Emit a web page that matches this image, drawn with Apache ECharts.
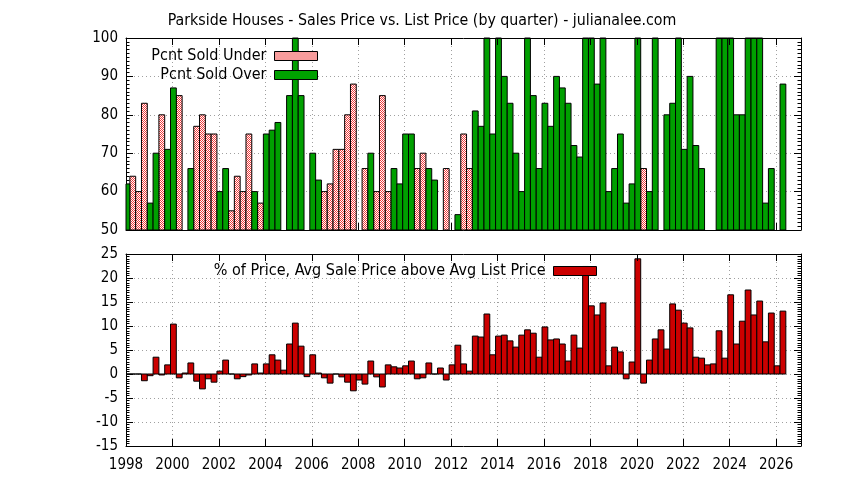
<!DOCTYPE html>
<html>
<head>
<meta charset="utf-8">
<script src="https://cdn.jsdelivr.net/npm/echarts@6/dist/echarts.min.js"></script>
<style>
html,body{margin:0;padding:0;background:#fff;}
#chart{width:844px;height:480px;}
</style>
</head>
<body>
<div id="chart"></div>
<script>
// ---- data (quarterly, index 0 = 1998 Q1) ----
const startYear = 1998;
const titleText = 'Parkside Houses - Sales Price vs. List Price (by quarter) - julianalee.com';
const underName = 'Pcnt Sold Under';
const overName = 'Pcnt Sold Over';
const diffName = '% of Price, Avg Sale Price above Avg List Price';

const underPct = [
  null, 64, 60, 83, null, null, 80, null, null, 85,
  null, null, 77, 80, 75, 75, null, null, 55, 64,
  60, 75, null, 57, null, null, null, null, null, null,
  null, null, null, null, 60, 62, 71, 71, 80, 88,
  null, 66, null, 60, 85, 60, null, null, null, null,
  66, 70, null, null, null, 66, null, null, 75, 66,
  null, null, null, null, null, null, null, null, null, null,
  null, null, null, null, null, null, null, null, null, null,
  null, null, null, null, null, null, null, null, null, 66,
  null, null, null, null, null, null, null, null, null, null,
  null, null, null, null, null, null, null, null, null, null,
  null, null, null, null
];

const overPct = [
  62, null, null, null, 57, 70, null, 71, 87, null,
  null, 66, null, null, null, null, 60, 66, null, null,
  null, null, 60, null, 75, 76, 78, null, 85, 100,
  85, null, 70, 63, null, null, null, null, null, null,
  null, null, 70, null, null, null, 66, 62, 75, 75,
  null, null, 66, 63, null, null, null, 54, null, null,
  81, 77, 100, 75, 100, 90, 83, 70, 60, 100,
  85, 66, 83, 77, 90, 87, 83, 72, 69, 100,
  100, 88, 100, 60, 66, 75, 57, 62, 100, null,
  60, 100, null, 80, 83, 100, 71, 90, 72, 66,
  null, null, 100, 100, 100, 80, 80, 100, 100, 100,
  57, 66, null, 88
];

const priceDiffPct = [
  0, 0, 0, -1.4, -0.35, 3.5, -0.2, 1.9, 10.4, -0.8,
  0.2, 2.3, -1.5, -3.1, -1.0, -1.7, 0.6, 2.9, 0, -1.0,
  -0.55, -0.2, 2.1, 0.2, 2.1, 4.0, 2.9, 0.8, 6.25, 10.6,
  5.8, -0.55, 4.0, 0.2, -0.8, -1.9, 0, -0.6, -1.7, -3.5,
  -1.25, -2.1, 2.7, -0.6, -2.7, 1.9, 1.5, 1.25, 1.7, 2.7,
  -1.0, -0.8, 2.3, 0, 1.25, -1.25, 1.9, 6.0, 2.1, 0.6,
  7.9, 7.7, 12.5, 4.0, 7.9, 8.1, 6.9, 5.6, 8.1, 9.2,
  8.5, 3.5, 9.8, 7.1, 7.3, 6.25, 2.7, 8.1, 5.4, 22.4,
  14.2, 12.3, 14.8, 1.7, 5.6, 4.6, -1.0, 2.5, 24.0, -1.9,
  2.9, 7.3, 9.2, 5.2, 14.6, 13.3, 10.6, 9.6, 3.5, 3.3,
  1.9, 2.1, 9.0, 3.3, 16.5, 6.25, 11.0, 17.5, 12.3, 15.2,
  6.7, 12.7, 1.7, 13.1
];

// x position of each quarter's bar (quarter start + half a month)
const quarterX = i => startYear + i * 0.25 + 1 / 24;
const quarterSpan = 0.25;
const toPoints = arr => arr.map((v, i) => [quarterX(i), v]).filter(p => p[1] !== null);

// ---- styling ----
const FONT = "'DejaVu Sans Condensed', 'DejaVu Sans', sans-serif";
const xMin = 1998, xMax = 2027.07;
const gridLeft = 126, gridWidth = 675;

function hatch() {
  const c = document.createElement('canvas');
  c.width = 2; c.height = 2;
  const ctx = c.getContext('2d');
  ctx.fillStyle = '#ffffff'; ctx.fillRect(0, 0, 2, 2);
  ctx.fillStyle = '#f23a3a'; ctx.fillRect(0, 0, 1, 1); ctx.fillRect(1, 1, 1, 1);
  return { image: c, repeat: 'repeat' };
}
const underFill = hatch();
const overFill = '#00a000';
const diffFill = '#cc0000';

function barRenderer(fill) {
  return function (params, api) {
    const x = api.value(0), y = api.value(1);
    const a = api.coord([x - quarterSpan / 2, 0]);
    const b = api.coord([x + quarterSpan / 2, y]);
    const rect = {
      x: a[0], y: Math.min(a[1], b[1]),
      width: b[0] - a[0], height: Math.abs(b[1] - a[1])
    };
    const cs = params.coordSys;
    const clipped = echarts.graphic.clipRectByRect(rect, { x: cs.x, y: cs.y, width: cs.width, height: cs.height });
    if (!clipped) return null;
    return {
      type: 'rect', shape: clipped,
      style: { fill: fill, stroke: '#000', lineWidth: 1 }
    };
  };
}

const gridLine = { show: true, lineStyle: { color: '#a0a0a0', type: [1, 3], width: 1 } };
const axLine = { show: true, onZero: false, lineStyle: { color: '#000', width: 1 } };

function xAxisDef(gridIndex, position, primary, labels) {
  return {
    type: 'value', gridIndex, position, min: xMin, max: xMax, interval: 2,
    z: primary ? 0 : 10,
    axisLine: axLine,
    axisTick: { show: true, inside: true, length: 7, lineStyle: { color: '#000' } },
    axisLabel: labels ? { show: true, color: '#000', fontFamily: FONT, fontSize: 15, margin: 12, showMaxLabel: false, formatter: v => String(Math.round(v)) } : { show: false },
    splitLine: primary ? gridLine : { show: false }
  };
}
function yAxisDef(gridIndex, position, primary, min, max, interval) {
  return {
    type: 'value', gridIndex, position, min, max, interval,
    z: primary ? 0 : 10,
    axisLine: axLine,
    axisTick: { show: true, inside: true, length: 7, lineStyle: { color: '#000' } },
    minorTick: { show: true, splitNumber: 10, length: 3.5, lineStyle: { color: '#000' } },
    axisLabel: primary ? { show: true, color: '#000', fontFamily: FONT, fontSize: 15, margin: 8 } : { show: false },
    splitLine: primary ? gridLine : { show: false }
  };
}

const legendBase = {
  orient: 'horizontal', align: 'right', padding: 0, itemWidth: 43, itemHeight: 9,
  itemGap: 0, selectedMode: false,
  textStyle: { color: '#000', fontFamily: FONT, fontSize: 16, lineHeight: 16, padding: [0, 3, 0, 0] }
};
function legendItem(name, fill) {
  return { name, icon: 'rect', itemStyle: { color: fill, borderColor: '#000', borderWidth: 1 } };
}

const option = {
  animation: false,
  backgroundColor: '#fff',
  title: {
    text: titleText, left: 'center', top: 8,
    textStyle: { color: '#000', fontFamily: FONT, fontSize: 15.8, fontWeight: 'normal' }
  },
  legend: [
    Object.assign({}, legendBase, { data: [legendItem(underName, underFill)], right: 844 - 318, top: 48 }),
    Object.assign({}, legendBase, { data: [legendItem(overName, overFill)], right: 844 - 318, top: 67 }),
    Object.assign({}, legendBase, { data: [legendItem(diffName, diffFill)], right: 844 - 597, top: 263 })
  ],
  grid: [
    { left: gridLeft, top: 38, width: gridWidth, height: 192 },
    { left: gridLeft, top: 254, width: gridWidth, height: 192 }
  ],
  xAxis: [
    xAxisDef(0, 'bottom', true, false),
    xAxisDef(0, 'top', false, false),
    xAxisDef(1, 'bottom', true, true),
    xAxisDef(1, 'top', false, false)
  ],
  yAxis: [
    yAxisDef(0, 'left', true, 50, 100, 10),
    yAxisDef(0, 'right', false, 50, 100, 10),
    yAxisDef(1, 'left', true, -15, 25, 5),
    yAxisDef(1, 'right', false, -15, 25, 5)
  ],
  series: [
    {
      name: underName, type: 'custom', xAxisIndex: 0, yAxisIndex: 0,
      data: toPoints(underPct), renderItem: barRenderer(underFill),
      itemStyle: { color: underFill, borderColor: '#000', borderWidth: 1 },
      encode: { x: 0, y: 1 }
    },
    {
      name: overName, type: 'custom', xAxisIndex: 0, yAxisIndex: 0,
      data: toPoints(overPct), renderItem: barRenderer(overFill),
      itemStyle: { color: overFill, borderColor: '#000', borderWidth: 1 },
      encode: { x: 0, y: 1 }
    },
    {
      name: diffName, type: 'custom', xAxisIndex: 2, yAxisIndex: 2,
      data: toPoints(priceDiffPct), renderItem: barRenderer(diffFill),
      itemStyle: { color: diffFill, borderColor: '#000', borderWidth: 1 },
      encode: { x: 0, y: 1 }
    }
  ]
};

const chart = echarts.init(document.getElementById('chart'), null, { renderer: 'canvas' });
chart.setOption(option);
</script>
</body>
</html>
